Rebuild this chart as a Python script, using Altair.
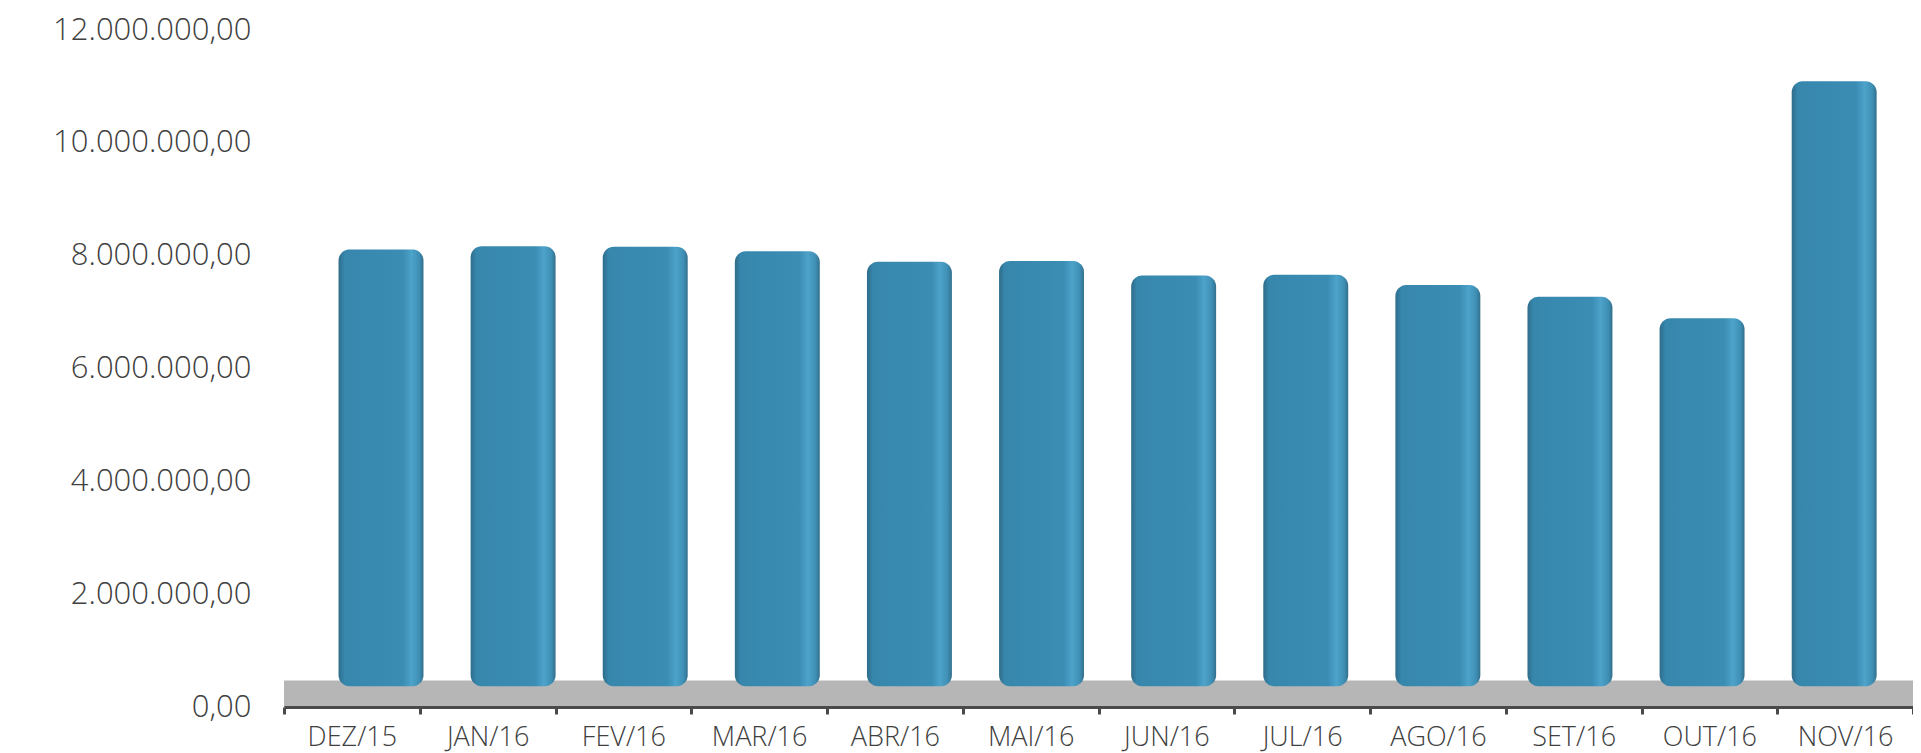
import altair as alt
import pandas as pd

# ---- data ----
months = ["DEZ/15", "JAN/16", "FEV/16", "MAR/16", "ABR/16", "MAI/16",
          "JUN/16", "JUL/16", "AGO/16", "SET/16", "OUT/16", "NOV/16"]
values = [8110000, 8165000, 8160000, 8080000, 7890000, 7905000,
          7650000, 7660000, 7480000, 7270000, 6890000, 11090000]
y_ticks = [0, 2000000, 4000000, 6000000, 8000000, 10000000, 12000000]

df = pd.DataFrame({"mes": months, "valor": values})
floor_df = pd.DataFrame({"piso": [0]})

# ---- style / layout ----
W, H = 1629, 677
FONT = "Open Sans"
TXT = "#404040"
FLOOR_TOP = 470000   # grey 3D floor thickness, in axis units
BAR_BASE = 370000    # bars stand on the floor

yscale = alt.Scale(domain=[0, 12000000], nice=False, zero=True)
label_expr = "join(split(format(datum.value, ',d'), ','), '.') + ',00'"

yaxis = alt.Axis(title=None, values=y_ticks, labelExpr=label_expr,
                 domain=False, ticks=False, grid=False,
                 labelFont=FONT, labelFontSize=31, labelFontWeight=300,
                 labelColor=TXT, labelPadding=33, labelLimit=400)

bar_fill = alt.Gradient(
    gradient="linear", x1=0, x2=1, y1=0, y2=0,
    stops=[
        alt.GradientStop(color="#2f6c8a", offset=0.0),
        alt.GradientStop(color="#3787ad", offset=0.07),
        alt.GradientStop(color="#3b8db4", offset=0.76),
        alt.GradientStop(color="#4da3ca", offset=0.86),
        alt.GradientStop(color="#3f8fb5", offset=0.95),
        alt.GradientStop(color="#336f8c", offset=1.0),
    ],
)

floor = alt.Chart(floor_df).mark_rect(color="#b6b6b6").encode(
    y=alt.datum(FLOOR_TOP, scale=yscale, axis=yaxis),
    y2=alt.datum(0),
)

axis_layer = alt.Chart(df).mark_bar(opacity=0).encode(
    x=alt.X("mes:N", sort=months,
            scale=alt.Scale(paddingInner=0, paddingOuter=0),
            axis=alt.Axis(title=None, labelAngle=0, tickBand="extent",
                          domainColor="#4a4a4a", domainWidth=3,
                          tickColor="#4a4a4a", tickWidth=3, tickSize=7,
                          labelFont=FONT, labelFontSize=27, labelFontWeight=300,
                          labelColor=TXT, labelPadding=10, labelLimit=400,
                          grid=False, zindex=1)),
    y=alt.Y("valor:Q", scale=yscale, axis=yaxis),
)

bars = alt.Chart(df).mark_bar(cornerRadius=11, fill=bar_fill).encode(
    x=alt.X("mes:N", sort=months,
            scale=alt.Scale(paddingInner=0.357, paddingOuter=0.344, align=0.6),
            axis=None),
    y=alt.Y("valor:Q", scale=yscale, axis=yaxis),
    y2=alt.datum(BAR_BASE),
)

chart = alt.layer(floor, axis_layer, bars).resolve_scale(x="independent").properties(
    width=W, height=H,
    autosize=alt.AutoSizeParams(type="none"),
    padding={"left": 276, "top": 22, "right": 0, "bottom": 45},
).configure(background="white", view=alt.ViewConfig(stroke="transparent", strokeWidth=0))

chart.save("out.html", embed_options={"renderer": "svg", "actions": False})
